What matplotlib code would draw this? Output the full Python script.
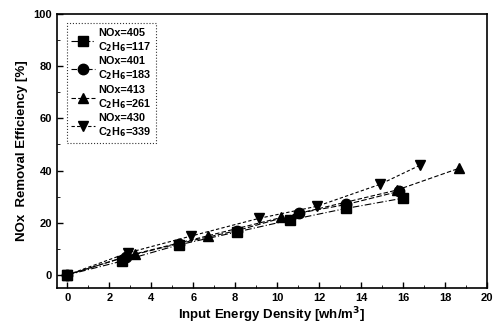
import numpy as np
import matplotlib.pyplot as plt

plt.rcParams['font.family'] = ['Liberation Sans', 'DejaVu Sans']
plt.rcParams['font.weight'] = 'bold'
plt.rcParams['mathtext.default'] = 'bf'

# NOx removal efficiency vs input energy density, four gas compositions
x_sq = [0, 2.6, 5.3, 8.1, 10.6, 13.3, 16.0]
y_sq = [0, 5.3, 11.5, 16.5, 21.0, 25.5, 29.4]

x_ci = [0, 2.8, 5.3, 8.1, 11.05, 13.3, 15.8]
y_ci = [0, 7.0, 12.0, 17.0, 23.7, 27.0, 32.0]

x_up = [0, 3.2, 6.7, 10.2, 15.7, 18.65]
y_up = [0, 8.0, 15.0, 22.0, 32.5, 40.8]

x_dn = [0, 2.9, 5.9, 9.15, 11.9, 14.9, 16.8]
y_dn = [0, 8.5, 14.9, 21.7, 26.3, 34.7, 42.0]

labels = ["NOx=405\nC$_2$H$_6$=117", "NOx=401\nC$_2$H$_6$=183",
          "NOx=413\nC$_2$H$_6$=261", "NOx=430\nC$_2$H$_6$=339"]

fig = plt.figure(figsize=(4.99, 3.31), dpi=100)
ax = fig.add_axes([0.114, 0.130, 0.862, 0.828])

series = [(x_sq, y_sq, 's', (0, (6, 2, 1, 2))),
          (x_ci, y_ci, 'o', (0, (5, 2))),
          (x_up, y_up, '^', (0, (4, 2))),
          (x_dn, y_dn, 'v', (0, (3, 2)))]
for (xs, ys, m, ls), lab in zip(series, labels):
    ax.plot(xs, ys, marker=m, linestyle=ls, color='black', lw=0.8,
            markersize=7.5, label=lab)

ax.set_xlim(-0.5, 20)
ax.set_ylim(-5, 100)
ax.set_xticks(np.arange(0, 21, 2))
ax.set_yticks(np.arange(0, 101, 20))
ax.set_xticks(np.arange(0, 20, 1), minor=True)
ax.set_yticks(np.arange(0, 100, 10), minor=True)
ax.tick_params(direction='in', labelsize=8, width=1, length=4)
ax.tick_params(which='minor', direction='in', length=2)
for s in ax.spines.values():
    s.set_linewidth(1.2)

ax.set_xlabel("Input Energy Density [wh/m$^3$]", fontsize=9.5, fontweight='bold', labelpad=2)
ax.set_ylabel("NOx  Removal Efficiency [%]", fontsize=9.5, fontweight='bold')

leg = ax.legend(loc='upper left', fontsize=7.8, handlelength=2.2, labelspacing=0.25,
                borderpad=0.4, handletextpad=0.3, bbox_to_anchor=(0.01, 0.985),
                fancybox=False, edgecolor='black')
leg.get_frame().set_linestyle(':')
leg.get_frame().set_linewidth(0.8)

fig.savefig('out.png', dpi=100)
